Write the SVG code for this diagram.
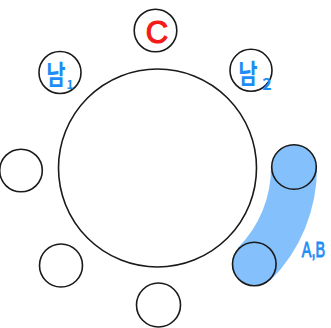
<svg xmlns="http://www.w3.org/2000/svg" width="331" height="328" viewBox="0 0 331 328">
  <style>
    .seat { fill: #ffffff; stroke: #1a1a1a; stroke-width: 1.6; }
    .taken { fill: #84c0fc; stroke: #1a1a1a; stroke-width: 1.6; }
    .table { fill: #ffffff; stroke: #1a1a1a; stroke-width: 1.6; }
    .pen-blue { fill: #1e8cf5; font-family: "Noto Sans CJK KR", "Liberation Sans", sans-serif; font-weight: bold; }
    .pen-red { fill: #f41a1a; stroke: #f41a1a; stroke-width: 1.2; font-family: "Liberation Sans", sans-serif; }
    .pen-label { fill: #1e8cf5; stroke: #1e8cf5; stroke-width: 0.7; font-family: "Liberation Sans", sans-serif; }
  </style>
  <rect width="331" height="328" fill="#ffffff"/>

  <!-- round table -->
  <g id="table">
    <circle class="table" cx="157.5" cy="168" r="99"/>
  </g>

  <!-- arc band linking the two adjacent seats on the right -->
  <g id="connectors">
    <path d="M 294 167 A 136.5 136.5 0 0 1 254.3 264" fill="none" stroke="#84c0fc" stroke-width="46"/>
  </g>

  <g id="seat-top">
    <circle class="seat" cx="155.5" cy="30.5" r="21.3"/>
    <text class="pen-red" x="157" y="43" font-size="31" text-anchor="middle">C</text>
  </g>

  <g id="seat-top-left">
    <circle class="seat" cx="60" cy="72.5" r="21"/>
    <text class="pen-blue" x="56" y="85" font-size="21" transform="translate(56 85) scale(1 1.3) translate(-56 -85)" text-anchor="middle">남</text>
    <text class="pen-blue" x="70" y="89" font-size="12" text-anchor="middle">1</text>
  </g>

  <g id="seat-top-right">
    <circle class="seat" cx="251" cy="70.3" r="21"/>
    <text class="pen-blue" x="248" y="84" font-size="21" transform="translate(248 84) scale(1 1.3) translate(-248 -84)" text-anchor="middle">남</text>
    <text class="pen-blue" x="267" y="90" font-size="16" text-anchor="middle">2</text>
  </g>

  <g id="seat-left">
    <circle class="seat" cx="21" cy="170.5" r="21.3"/>
  </g>

  <g id="seat-bottom-left">
    <circle class="seat" cx="61" cy="265.5" r="21.5"/>
  </g>

  <g id="seat-bottom">
    <circle class="seat" cx="158.5" cy="305" r="22"/>
  </g>

  <g id="seat-right">
    <circle class="taken" cx="294" cy="167" r="22.3"/>
  </g>

  <g id="seat-bottom-right">
    <circle class="taken" cx="254.3" cy="264" r="21.8"/>
    <text class="pen-label" x="313.5" y="257" font-size="17" transform="translate(313.5 257) scale(0.85 1.3) translate(-313.5 -257)" text-anchor="middle">A,B</text>
  </g>
</svg>
